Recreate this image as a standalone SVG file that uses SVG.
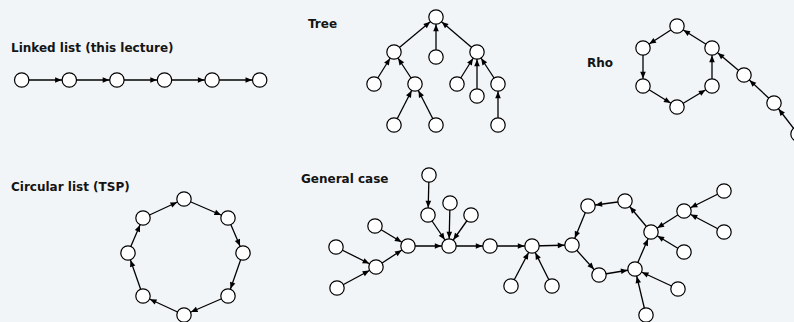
<svg xmlns="http://www.w3.org/2000/svg" width="794" height="322" viewBox="0 0 794 322">
<defs>
<style>
.t{font-family:"DejaVu Sans","Verdana",sans-serif;font-weight:bold;font-size:12px;fill:#141414}
.n{fill:#fff;stroke:#000;stroke-width:1.2}
.e{stroke:#000;stroke-width:1.3;fill:none;marker-end:url(#ah)}
</style>
<marker id="ah" markerUnits="userSpaceOnUse" viewBox="-16 -4 16 8" markerWidth="16" markerHeight="8" refX="0" refY="0" orient="auto">
<path d="M-7.6,0 L-14.2,-2.8 L-14.2,2.8 Z" fill="#000"/>
</marker>
</defs>
<rect x="0" y="0" width="794" height="322" fill="#f2f5f8"/>

<text class="t" x="11" y="52">Linked list (this lecture)</text>
<text class="t" x="308" y="28">Tree</text>
<text class="t" x="587" y="67">Rho</text>
<text class="t" x="11" y="191">Circular list (TSP)</text>
<text class="t" x="301" y="183">General case</text>

<g id="connectors">
<!-- linked list -->
<line class="e" x1="21.7" y1="80" x2="69.3" y2="80"/>
<line class="e" x1="69.3" y1="80" x2="116.9" y2="80"/>
<line class="e" x1="116.9" y1="80" x2="164.5" y2="80"/>
<line class="e" x1="164.5" y1="80" x2="212.1" y2="80"/>
<line class="e" x1="212.1" y1="80" x2="259.7" y2="80"/>
<!-- tree -->
<line class="e" x1="394" y1="52" x2="436" y2="17"/>
<line class="e" x1="436" y1="57" x2="436" y2="17"/>
<line class="e" x1="477" y1="52" x2="436" y2="17"/>
<line class="e" x1="374" y1="84" x2="394" y2="52"/>
<line class="e" x1="415" y1="84" x2="394" y2="52"/>
<line class="e" x1="457" y1="84" x2="477" y2="52"/>
<line class="e" x1="477" y1="96" x2="477" y2="52"/>
<line class="e" x1="498" y1="84" x2="477" y2="52"/>
<line class="e" x1="394" y1="125" x2="415" y2="84"/>
<line class="e" x1="436" y1="125" x2="415" y2="84"/>
<line class="e" x1="498" y1="125" x2="498" y2="84"/>
<!-- rho -->
<line class="e" x1="677" y1="26" x2="643" y2="48"/>
<line class="e" x1="643" y1="48" x2="643" y2="86"/>
<line class="e" x1="643" y1="86" x2="677" y2="107"/>
<line class="e" x1="677" y1="107" x2="712" y2="86"/>
<line class="e" x1="712" y1="86" x2="712" y2="48"/>
<line class="e" x1="712" y1="48" x2="677" y2="26"/>
<line class="e" x1="744" y1="75" x2="712" y2="48"/>
<line class="e" x1="774" y1="103" x2="744" y2="75"/>
<line class="e" x1="798" y1="134" x2="774" y2="103"/>
<!-- circular -->
<line class="e" x1="143" y1="218" x2="184" y2="199"/>
<line class="e" x1="184" y1="199" x2="228" y2="218"/>
<line class="e" x1="228" y1="218" x2="243" y2="253"/>
<line class="e" x1="243" y1="253" x2="228" y2="296"/>
<line class="e" x1="228" y1="296" x2="184" y2="315"/>
<line class="e" x1="184" y1="315" x2="143" y2="296"/>
<line class="e" x1="143" y1="296" x2="128" y2="253"/>
<line class="e" x1="128" y1="253" x2="143" y2="218"/>
<!-- general case -->
<line class="e" x1="429" y1="175" x2="428" y2="215"/>
<line class="e" x1="428" y1="215" x2="449" y2="246"/>
<line class="e" x1="450" y1="203" x2="449" y2="246"/>
<line class="e" x1="471" y1="215" x2="449" y2="246"/>
<line class="e" x1="375" y1="226" x2="408" y2="246"/>
<line class="e" x1="336" y1="247" x2="376" y2="267"/>
<line class="e" x1="337" y1="288" x2="376" y2="267"/>
<line class="e" x1="376" y1="267" x2="408" y2="246"/>
<line class="e" x1="408" y1="246" x2="449" y2="246"/>
<line class="e" x1="449" y1="246" x2="490" y2="246"/>
<line class="e" x1="490" y1="246" x2="532" y2="246"/>
<line class="e" x1="511" y1="286" x2="532" y2="246"/>
<line class="e" x1="552" y1="286" x2="532" y2="246"/>
<line class="e" x1="532" y1="246" x2="572" y2="245"/>
<line class="e" x1="572" y1="245" x2="599" y2="275"/>
<line class="e" x1="599" y1="275" x2="635" y2="269"/>
<line class="e" x1="635" y1="269" x2="651" y2="232"/>
<line class="e" x1="651" y1="232" x2="625" y2="201"/>
<line class="e" x1="625" y1="201" x2="588" y2="206"/>
<line class="e" x1="588" y1="206" x2="572" y2="245"/>
<line class="e" x1="684" y1="211" x2="651" y2="232"/>
<line class="e" x1="724" y1="191" x2="684" y2="211"/>
<line class="e" x1="724" y1="232" x2="684" y2="211"/>
<line class="e" x1="684" y1="252" x2="651" y2="232"/>
<line class="e" x1="678" y1="289" x2="635" y2="269"/>
<line class="e" x1="646" y1="315" x2="635" y2="269"/>
</g>

<!-- linked list nodes -->
<g id="ll1"><circle class="n" cx="21.7" cy="80" r="7.2"/></g>
<g id="ll2"><circle class="n" cx="69.3" cy="80" r="7.2"/></g>
<g id="ll3"><circle class="n" cx="116.9" cy="80" r="7.2"/></g>
<g id="ll4"><circle class="n" cx="164.5" cy="80" r="7.2"/></g>
<g id="ll5"><circle class="n" cx="212.1" cy="80" r="7.2"/></g>
<g id="ll6"><circle class="n" cx="259.7" cy="80" r="7.2"/></g>
<!-- tree nodes -->
<g id="tr-root"><circle class="n" cx="436" cy="17" r="7.2"/></g>
<g id="tr-a"><circle class="n" cx="394" cy="52" r="7.2"/></g>
<g id="tr-b"><circle class="n" cx="436" cy="57" r="7.2"/></g>
<g id="tr-c"><circle class="n" cx="477" cy="52" r="7.2"/></g>
<g id="tr-d"><circle class="n" cx="374" cy="84" r="7.2"/></g>
<g id="tr-e"><circle class="n" cx="415" cy="84" r="7.2"/></g>
<g id="tr-f"><circle class="n" cx="457" cy="84" r="7.2"/></g>
<g id="tr-g"><circle class="n" cx="477" cy="96" r="7.2"/></g>
<g id="tr-h"><circle class="n" cx="498" cy="84" r="7.2"/></g>
<g id="tr-i"><circle class="n" cx="394" cy="125" r="7.2"/></g>
<g id="tr-j"><circle class="n" cx="436" cy="125" r="7.2"/></g>
<g id="tr-k"><circle class="n" cx="498" cy="125" r="7.2"/></g>
<!-- rho nodes -->
<g id="rho-top"><circle class="n" cx="677" cy="26" r="7.2"/></g>
<g id="rho-ul"><circle class="n" cx="643" cy="48" r="7.2"/></g>
<g id="rho-ll"><circle class="n" cx="643" cy="86" r="7.2"/></g>
<g id="rho-bot"><circle class="n" cx="677" cy="107" r="7.2"/></g>
<g id="rho-lr"><circle class="n" cx="712" cy="86" r="7.2"/></g>
<g id="rho-ur"><circle class="n" cx="712" cy="48" r="7.2"/></g>
<g id="rho-t1"><circle class="n" cx="744" cy="75" r="7.2"/></g>
<g id="rho-t2"><circle class="n" cx="774" cy="103" r="7.2"/></g>
<g id="rho-t3"><circle class="n" cx="798" cy="134" r="7.2"/></g>
<!-- circular nodes -->
<g id="cl-top"><circle class="n" cx="184" cy="199" r="7.2"/></g>
<g id="cl-ur"><circle class="n" cx="228" cy="218" r="7.2"/></g>
<g id="cl-r"><circle class="n" cx="243" cy="253" r="7.2"/></g>
<g id="cl-lr"><circle class="n" cx="228" cy="296" r="7.2"/></g>
<g id="cl-b"><circle class="n" cx="184" cy="315" r="7.2"/></g>
<g id="cl-ll"><circle class="n" cx="143" cy="296" r="7.2"/></g>
<g id="cl-l"><circle class="n" cx="128" cy="253" r="7.2"/></g>
<g id="cl-ul"><circle class="n" cx="143" cy="218" r="7.2"/></g>
<!-- general case nodes -->
<g id="g-n1"><circle class="n" cx="429" cy="175" r="7.2"/></g>
<g id="g-n2"><circle class="n" cx="428" cy="215" r="7.2"/></g>
<g id="g-n3"><circle class="n" cx="450" cy="203" r="7.2"/></g>
<g id="g-n4"><circle class="n" cx="471" cy="215" r="7.2"/></g>
<g id="g-hub"><circle class="n" cx="449" cy="246" r="7.2"/></g>
<g id="g-l1"><circle class="n" cx="375" cy="226" r="7.2"/></g>
<g id="g-x"><circle class="n" cx="408" cy="246" r="7.2"/></g>
<g id="g-l2"><circle class="n" cx="336" cy="247" r="7.2"/></g>
<g id="g-y"><circle class="n" cx="376" cy="267" r="7.2"/></g>
<g id="g-l3"><circle class="n" cx="337" cy="288" r="7.2"/></g>
<g id="g-r1"><circle class="n" cx="490" cy="246" r="7.2"/></g>
<g id="g-r2"><circle class="n" cx="532" cy="246" r="7.2"/></g>
<g id="g-ra"><circle class="n" cx="511" cy="286" r="7.2"/></g>
<g id="g-rb"><circle class="n" cx="552" cy="286" r="7.2"/></g>
<g id="g-c1"><circle class="n" cx="572" cy="245" r="7.2"/></g>
<g id="g-c2"><circle class="n" cx="588" cy="206" r="7.2"/></g>
<g id="g-c3"><circle class="n" cx="625" cy="201" r="7.2"/></g>
<g id="g-c4"><circle class="n" cx="651" cy="232" r="7.2"/></g>
<g id="g-c5"><circle class="n" cx="635" cy="269" r="7.2"/></g>
<g id="g-c6"><circle class="n" cx="599" cy="275" r="7.2"/></g>
<g id="g-b1"><circle class="n" cx="684" cy="211" r="7.2"/></g>
<g id="g-ba"><circle class="n" cx="724" cy="191" r="7.2"/></g>
<g id="g-bb"><circle class="n" cx="724" cy="232" r="7.2"/></g>
<g id="g-cc"><circle class="n" cx="684" cy="252" r="7.2"/></g>
<g id="g-c5a"><circle class="n" cx="678" cy="289" r="7.2"/></g>
<g id="g-c5b"><circle class="n" cx="646" cy="315" r="7.2"/></g>
</svg>
